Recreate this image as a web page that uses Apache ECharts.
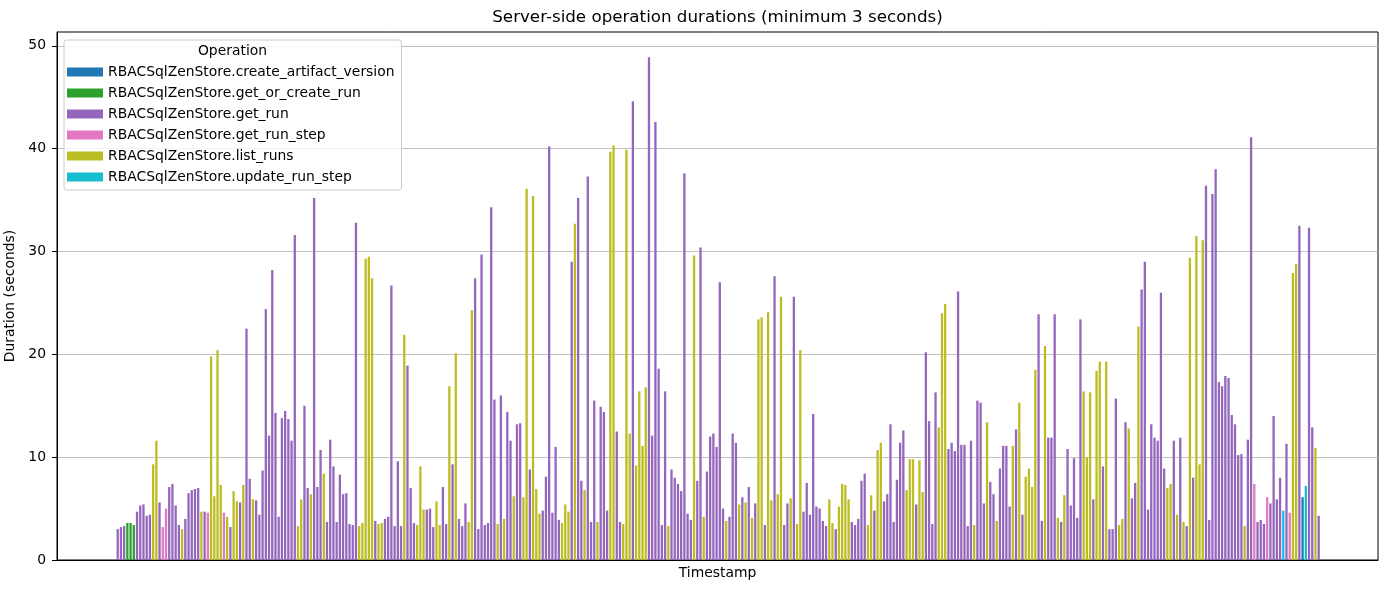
<!DOCTYPE html>
<html>
<head>
<meta charset="utf-8">
<script src="https://cdn.jsdelivr.net/npm/echarts@6/dist/echarts.min.js"></script>
<style>html,body{margin:0;padding:0;background:#fff}#c{width:1389px;height:590px}</style>
</head>
<body>
<div id="c"></div>
<script>
// Operation names (legend order) and their codes / colours
const operations = [
  'RBACSqlZenStore.create_artifact_version',
  'RBACSqlZenStore.get_or_create_run',
  'RBACSqlZenStore.get_run',
  'RBACSqlZenStore.get_run_step',
  'RBACSqlZenStore.list_runs',
  'RBACSqlZenStore.update_run_step'
];
const opCodes = ['B', 'G', 'P', 'K', 'Y', 'C'];
const opColors = ['#1f77b4', '#2ca02c', '#9467bd', '#e377c2', '#bcbd22', '#17becf'];

// Operation of each bar, in timestamp order
const barOps = (
  'PPPGGGPPPPPYYPKKPPPPYPPPPPYPKYY' +
  'YYKYPYYPYPPYPPPPPPPPPPPPPYYPPYPP' +
  'PYPPPPPPPPPPYYYYYPYYPPPPPPYPPPY' +
  'YYPPPYYPPYPYPPPYYPPPPPPPYPYPPYPP' +
  'YYPYYYPPPPPPYYYPYPPYPPPYPPPYYPPY' +
  'YYPYYYYPPPPPPYPPPPPPPYPPYPPPPPP' +
  'YPPPYPYPYPYYPYYPYYPPYPYYPPPPPPPP' +
  'YYPYYYYPPPPPYYPYYPPPPPPPYYYPYYPP' +
  'PPYYYPPPPPPPPYPPPYPPYPPPPYPYPYYY' +
  'YPPYPPPYPYPPPPPYYYPYYPYPPPYYPYP' +
  'PYPPPPPPPPYYPYPYPYPYYYPPPPPPPPPP' +
  'PPYPPKPPPKPPPPCPKYYPBCPPYP'
).split('');

// Duration (seconds) of each bar, same order
const durations = [
  3.0,3.2,3.3,3.6,3.6,3.4,4.7,5.3,5.4,4.3,4.4,9.3,11.6,5.6,3.2,5.0,7.1,7.4,5.3,3.4,3.0,4.0,6.5,6.8,6.9,7.0,4.7,4.7,4.6,19.8,6.2,
  20.4,7.3,4.6,4.2,3.2,6.7,5.7,5.6,7.3,22.5,7.9,5.9,5.8,4.4,8.7,24.4,12.1,28.2,14.3,4.2,13.8,14.5,13.7,11.6,31.6,3.3,5.9,15.0,7.0,6.4,35.2,7.1,
  10.7,8.4,3.7,11.7,9.1,3.7,8.3,6.4,6.5,3.5,3.4,32.8,3.3,3.6,29.3,29.5,27.4,3.8,3.5,3.6,4.0,4.2,26.7,3.3,9.6,3.3,21.9,18.9,7.0,3.6,3.4,
  9.1,4.9,4.9,5.0,3.2,5.7,3.4,7.1,3.5,16.9,9.3,20.1,4.0,3.3,5.5,3.7,24.3,27.4,3.0,29.7,3.4,3.6,34.3,15.6,3.5,16.0,4.0,14.4,11.6,6.2,13.2,13.3,
  6.1,36.1,8.8,35.4,6.9,4.5,4.8,8.1,40.2,4.6,11.0,3.9,3.6,5.4,4.7,29.0,32.7,35.2,7.7,6.8,37.3,3.7,15.5,3.7,14.9,14.4,4.8,39.7,40.3,12.5,3.7,3.5,
  39.9,12.3,44.6,9.2,16.4,11.1,16.8,48.9,12.1,42.6,18.6,3.4,16.4,3.3,8.8,8.0,7.4,6.7,37.6,4.5,3.9,29.6,7.7,30.4,4.2,8.6,12.0,12.3,11.0,27.0,5.0,
  3.8,4.2,12.3,11.4,5.4,6.1,5.6,7.1,4.1,5.5,23.4,23.6,3.4,24.1,5.8,27.6,6.4,25.6,3.4,5.5,6.0,25.6,3.5,20.4,4.7,7.5,4.4,14.2,5.2,5.0,3.8,3.3,
  5.9,3.6,3.0,5.2,7.4,7.3,5.9,3.7,3.4,4.0,7.7,8.4,3.4,6.3,4.8,10.7,11.4,5.7,6.4,13.2,3.7,7.8,11.4,12.6,6.8,9.8,9.8,5.4,9.7,6.6,20.2,13.5,
  3.5,16.3,12.9,24.0,24.9,10.8,11.4,10.6,26.1,11.2,11.2,3.3,11.6,3.4,15.5,15.3,5.5,13.4,7.6,6.4,3.8,8.9,11.1,11.1,5.2,11.1,12.7,15.3,4.4,8.1,8.9,7.1,
  18.5,23.9,3.8,20.8,11.9,11.9,23.9,4.1,3.7,6.3,10.8,5.3,9.9,4.1,23.4,16.4,10.0,16.3,5.9,18.4,19.3,9.1,19.3,3.0,3.0,15.7,3.4,4.0,13.4,12.8,6.0,
  7.5,22.7,26.3,29.0,4.9,13.2,11.9,11.6,26.0,8.9,7.0,7.4,11.6,4.4,11.9,3.7,3.3,29.4,8.0,31.5,9.3,31.1,36.4,3.9,35.6,38.0,17.3,16.9,17.9,17.7,14.1,13.2,
  10.2,10.3,3.3,11.7,41.1,7.4,3.7,3.9,3.5,6.1,5.5,14.0,5.9,8.0,4.8,11.3,4.6,27.9,28.8,32.5,6.1,7.2,32.3,12.9,10.9,4.3
];

const yTicks = [0, 10, 20, 30, 40, 50];
const titleText = 'Server-side operation durations (minimum 3 seconds)';
const legendTitle = 'Operation';

const FONT = 'DejaVu Sans';
const W = 1389, H = 590;
const n = barOps.length;
const yMax = Math.max(...durations) * 1.05;
const barSlots = barOps.map((_, i) => String(i));

// target plot frame (grid 0) and the bar band (grid 1, ~5% x-margins)
const target = { x: 57, y: 32, x2: 1378, y2: 560 };
const firstBarX = 117.7;
const lastBarX = 1318.7;
const slotPx = (lastBarX - firstBarX) / (n - 1);
const g0 = { left: target.x, right: W - target.x2, top: target.y, bottom: H - target.y2 };
const g1 = { left: firstBarX - slotPx / 2, right: 0, top: target.y, bottom: H - target.y2 };
g1.right = W - (g1.left + slotPx * n);

const series = operations.map((name, k) => ({
  name: name,
  type: 'bar',
  xAxisIndex: 1,
  yAxisIndex: 1,
  barWidth: 2.3,
  barGap: '-100%',
  itemStyle: { color: opColors[k] },
  emphasis: { disabled: true },
  data: barOps.map((op, i) => op === opCodes[k] ? durations[i] : '-')
}));

function gridOpt() {
  return [
    Object.assign({ show: true, borderColor: '#000', borderWidth: 1, backgroundColor: 'transparent', outerBoundsMode: 'none' }, g0),
    Object.assign({ show: false }, g1)
  ];
}

const chart = echarts.init(document.getElementById('c'), null, { renderer: 'canvas' });
chart.setOption({
  animation: false,
  backgroundColor: '#ffffff',
  textStyle: { fontFamily: FONT, color: '#000' },
  grid: gridOpt(),
  xAxis: [
    {
      gridIndex: 0,
      type: 'value',
      min: 0, max: 1,
      name: 'Timestamp',
      nameLocation: 'middle',
      nameGap: 6,
      nameTextStyle: { fontFamily: FONT, fontSize: 13.9, color: '#000', verticalAlign: 'top' },
      axisLine: { show: true, onZero: false, lineStyle: { color: '#000', width: 1 } },
      axisTick: { show: false },
      axisLabel: { show: false },
      splitLine: { show: false }
    },
    {
      gridIndex: 1,
      type: 'category',
      data: barSlots,
      boundaryGap: true,
      show: false
    }
  ],
  yAxis: [
    {
      gridIndex: 0,
      type: 'value',
      min: 0,
      max: yMax,
      interval: 10,
      name: 'Duration (seconds)',
      nameLocation: 'middle',
      nameGap: 21,
      nameTextStyle: { fontFamily: FONT, fontSize: 13.9, color: '#000' },
      axisLine: { show: true, onZero: false, lineStyle: { color: '#000', width: 1 } },
      axisTick: { show: true, length: 5, customValues: yTicks, lineStyle: { color: '#000', width: 1 } },
      axisLabel: {
        fontFamily: FONT, fontSize: 13.9, color: '#000', margin: 11,
        customValues: yTicks,
        formatter: v => String(v)
      },
      splitLine: { show: true, lineStyle: { color: '#b0b0b0', width: 0.8 } }
    },
    {
      gridIndex: 1,
      type: 'value',
      min: 0,
      max: yMax,
      show: false,
      splitLine: { show: false }
    }
  ],
  legend: {
    data: operations,
    orient: 'vertical',
    left: 64,
    top: 40,
    padding: [25, 7, 6, 3],
    itemWidth: 36,
    itemHeight: 9,
    itemGap: 7,
    icon: 'rect',
    selectedMode: false,
    backgroundColor: 'rgba(255,255,255,0.8)',
    borderColor: '#cccccc',
    borderWidth: 1,
    borderRadius: 3,
    textStyle: { fontFamily: FONT, fontSize: 13.9, color: '#000', lineHeight: 14 }
  },
  graphic: [
    {
      type: 'text', x: 717.5, y: 18, z: 100,
      style: { text: titleText, fontFamily: FONT, fontSize: 16.7, fill: '#000', align: 'center', verticalAlign: 'middle' }
    },
    {
      type: 'text', x: 232.5, y: 51, z: 100,
      style: { text: legendTitle, fontFamily: FONT, fontSize: 13.9, fill: '#000', align: 'center', verticalAlign: 'middle' }
    }
  ],
  series: series
});

// keep the frame and the bar band exactly where the reference puts them
function rectOf(i) {
  const gm = chart.getModel && chart.getModel().getComponent('grid', i);
  return gm && gm.coordinateSystem ? gm.coordinateSystem.getRect() : null;
}
for (let it = 0; it < 6; it++) {
  let done = true;
  const r0 = rectOf(0), r1 = rectOf(1);
  if (r0) {
    const d = [target.x - r0.x, (r0.x + r0.width) - target.x2, target.y - r0.y, (r0.y + r0.height) - target.y2];
    if (d.some(v => Math.abs(v) > 0.1)) done = false;
    g0.left += d[0]; g0.right += d[1]; g0.top += d[2]; g0.bottom += d[3];
  }
  if (r1) {
    const dt = target.y - r1.y, db = (r1.y + r1.height) - target.y2;
    if (Math.abs(dt) > 0.1 || Math.abs(db) > 0.1) done = false;
    g1.top += dt; g1.bottom += db;
  }
  const a = chart.convertToPixel({ xAxisIndex: 1 }, '0');
  const b = chart.convertToPixel({ xAxisIndex: 1 }, String(n - 1));
  if (isFinite(a) && isFinite(b) && b > a) {
    if (Math.abs(a - firstBarX) > 0.1 || Math.abs(b - lastBarX) > 0.1) {
      done = false;
      const k = (lastBarX - firstBarX) / (b - a);
      const width = W - g1.left - g1.right;
      const newLeft = firstBarX - (a - g1.left) * k;
      g1.right = W - newLeft - width * k;
      g1.left = newLeft;
    }
  }
  if (done) break;
  chart.setOption({ grid: gridOpt() });
}
</script>
</body>
</html>
